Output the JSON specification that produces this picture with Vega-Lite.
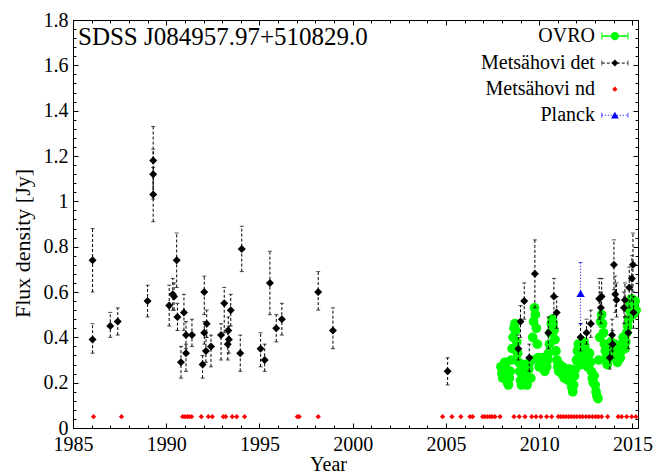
{
  "$schema": "https://vega.github.io/schema/vega-lite/v6.json",
  "width": 565,
  "height": 408,
  "autosize": "none",
  "padding": {"left": 73, "top": 20, "right": 18, "bottom": 45},
  "background": "white",
  "title": {"text": "SDSS J084957.97+510829.0", "anchor": "start", "frame": "group", "offset": 0, "dx": 5, "dy": 60, "baseline": "alphabetic", "font": "Liberation Serif", "fontSize": 25, "fontWeight": "normal", "color": "black"},
  "config": {
    "view": {"stroke": "black", "strokeWidth": 1},
    "axis": {"labelFont": "Liberation Serif", "titleFont": "Liberation Serif", "labelFontSize": 20, "titleFontSize": 20, "labelColor": "black", "titleColor": "black", "tickColor": "black", "titleFontWeight": "normal", "grid": false, "domain": false, "labelFlush": false, "labelOverlap": false, "tickWidth": 1}
  },
  "resolve": {"axis": {"x": "independent", "y": "independent"}},
  "datasets": {
    "ovro": [
      {"t":2007.95,"f":0.27},{"t":2008.0,"f":0.24},{"t":2008.05,"f":0.22},{"t":2008.1,"f":0.26},{"t":2008.15,"f":0.29},{"t":2008.2,"f":0.27},{"t":2008.25,"f":0.23},{"t":2008.3,"f":0.20},{"t":2008.35,"f":0.19},{"t":2008.4,"f":0.22},{"t":2008.45,"f":0.25},
      {"t":2008.5,"f":0.30},{"t":2008.55,"f":0.35},{"t":2008.6,"f":0.40},{"t":2008.65,"f":0.44},{"t":2008.7,"f":0.46},{"t":2008.75,"f":0.43},{"t":2008.8,"f":0.38},{"t":2008.85,"f":0.33},{"t":2008.9,"f":0.29},{"t":2008.95,"f":0.25},
      {"t":2009.0,"f":0.21},{"t":2009.05,"f":0.19},{"t":2009.1,"f":0.22},{"t":2009.15,"f":0.26},{"t":2009.2,"f":0.28},{"t":2009.25,"f":0.24},{"t":2009.3,"f":0.20},{"t":2009.35,"f":0.19},{"t":2009.4,"f":0.22},{"t":2009.45,"f":0.26},{"t":2009.5,"f":0.29},
      {"t":2009.55,"f":0.22},{"t":2009.6,"f":0.30},{"t":2009.65,"f":0.40},{"t":2009.7,"f":0.47},{"t":2009.75,"f":0.53},{"t":2009.8,"f":0.50},{"t":2009.85,"f":0.44},{"t":2009.9,"f":0.37},{"t":2009.95,"f":0.31},
      {"t":2010.0,"f":0.27},{"t":2010.05,"f":0.30},{"t":2010.1,"f":0.27},{"t":2010.15,"f":0.29},{"t":2010.2,"f":0.31},{"t":2010.25,"f":0.28},{"t":2010.3,"f":0.25},{"t":2010.35,"f":0.27},{"t":2010.4,"f":0.27},{"t":2010.45,"f":0.30},{"t":2010.5,"f":0.33},
      {"t":2010.55,"f":0.37},{"t":2010.6,"f":0.42},{"t":2010.65,"f":0.46},{"t":2010.7,"f":0.48},{"t":2010.75,"f":0.46},{"t":2010.8,"f":0.43},{"t":2010.85,"f":0.39},{"t":2010.9,"f":0.34},{"t":2010.95,"f":0.30},
      {"t":2011.0,"f":0.27},{"t":2011.05,"f":0.25},{"t":2011.1,"f":0.28},{"t":2011.15,"f":0.26},{"t":2011.2,"f":0.24},{"t":2011.25,"f":0.27},{"t":2011.3,"f":0.25},{"t":2011.35,"f":0.22},{"t":2011.4,"f":0.24},{"t":2011.45,"f":0.26},{"t":2011.5,"f":0.23},{"t":2011.55,"f":0.21},{"t":2011.6,"f":0.24},{"t":2011.65,"f":0.26},{"t":2011.7,"f":0.22},{"t":2011.75,"f":0.18},{"t":2011.8,"f":0.16},{"t":2011.85,"f":0.19},{"t":2011.9,"f":0.23},{"t":2011.95,"f":0.26},
      {"t":2012.0,"f":0.30},{"t":2012.05,"f":0.34},{"t":2012.1,"f":0.37},{"t":2012.15,"f":0.35},{"t":2012.2,"f":0.32},{"t":2012.25,"f":0.28},{"t":2012.3,"f":0.31},{"t":2012.35,"f":0.35},{"t":2012.4,"f":0.38},{"t":2012.45,"f":0.36},{"t":2012.5,"f":0.33},{"t":2012.55,"f":0.30},{"t":2012.6,"f":0.27},{"t":2012.65,"f":0.30},{"t":2012.7,"f":0.33},{"t":2012.75,"f":0.29},
      {"t":2012.8,"f":0.25},{"t":2012.85,"f":0.22},{"t":2012.9,"f":0.20},{"t":2012.95,"f":0.23},{"t":2013.0,"f":0.19},{"t":2013.05,"f":0.16},{"t":2013.1,"f":0.14},{"t":2013.15,"f":0.13},
      {"t":2013.2,"f":0.30},{"t":2013.25,"f":0.40},{"t":2013.3,"f":0.47},{"t":2013.35,"f":0.50},{"t":2013.4,"f":0.46},{"t":2013.45,"f":0.42},{"t":2013.5,"f":0.37},{"t":2013.55,"f":0.34},{"t":2013.6,"f":0.31},
      {"t":2013.65,"f":0.28},{"t":2013.7,"f":0.30},{"t":2013.75,"f":0.33},{"t":2013.8,"f":0.36},{"t":2013.85,"f":0.38},{"t":2013.9,"f":0.35},{"t":2013.95,"f":0.32},{"t":2014.0,"f":0.34},{"t":2014.05,"f":0.37},{"t":2014.1,"f":0.34},{"t":2014.15,"f":0.31},{"t":2014.2,"f":0.29},{"t":2014.25,"f":0.31},
      {"t":2014.3,"f":0.33},{"t":2014.35,"f":0.31},{"t":2014.4,"f":0.34},{"t":2014.45,"f":0.37},{"t":2014.5,"f":0.40},{"t":2014.55,"f":0.38},{"t":2014.6,"f":0.35},{"t":2014.65,"f":0.38},{"t":2014.7,"f":0.42},{"t":2014.75,"f":0.45},
      {"t":2014.8,"f":0.48},{"t":2014.85,"f":0.52},{"t":2014.9,"f":0.55},{"t":2014.95,"f":0.57},{"t":2015.0,"f":0.54},{"t":2015.05,"f":0.50},{"t":2015.1,"f":0.53},{"t":2015.15,"f":0.56},{"t":2015.2,"f":0.52}
    ],
    "met": [
      {"t":1986.05,"f":0.74,"lo":0.60,"hi":0.88},{"t":1986.05,"f":0.39,"lo":0.33,"hi":0.46},{"t":1987.0,"f":0.45,"lo":0.40,"hi":0.51},{"t":1987.4,"f":0.47,"lo":0.41,"hi":0.53},
      {"t":1989.0,"f":0.56,"lo":0.49,"hi":0.63},{"t":1989.3,"f":1.18,"lo":1.03,"hi":1.33},{"t":1989.3,"f":1.12,"lo":1.01,"hi":1.23},{"t":1989.3,"f":1.03,"lo":0.91,"hi":1.15},
      {"t":1990.16,"f":0.54,"lo":0.45,"hi":0.63},{"t":1990.35,"f":0.59,"lo":0.52,"hi":0.66},{"t":1990.42,"f":0.58,"lo":0.52,"hi":0.64},{"t":1990.56,"f":0.74,"lo":0.62,"hi":0.86},{"t":1990.6,"f":0.49,"lo":0.43,"hi":0.55},
      {"t":1990.79,"f":0.29,"lo":0.22,"hi":0.36},{"t":1990.95,"f":0.51,"lo":0.43,"hi":0.59},{"t":1991.06,"f":0.41,"lo":0.35,"hi":0.47},{"t":1991.06,"f":0.33,"lo":0.25,"hi":0.37},{"t":1991.38,"f":0.41,"lo":0.36,"hi":0.48},
      {"t":1991.95,"f":0.28,"lo":0.22,"hi":0.32},{"t":1992.04,"f":0.60,"lo":0.50,"hi":0.67},{"t":1992.04,"f":0.42,"lo":0.37,"hi":0.47},{"t":1992.13,"f":0.34,"lo":0.29,"hi":0.40},{"t":1992.17,"f":0.46,"lo":0.40,"hi":0.52},
      {"t":1992.4,"f":0.36,"lo":0.27,"hi":0.41},{"t":1992.94,"f":0.41,"lo":0.30,"hi":0.46},{"t":1993.11,"f":0.55,"lo":0.42,"hi":0.62},{"t":1993.3,"f":0.37,"lo":0.30,"hi":0.44},{"t":1993.33,"f":0.43,"lo":0.37,"hi":0.49},
      {"t":1993.36,"f":0.39,"lo":0.33,"hi":0.45},{"t":1993.46,"f":0.52,"lo":0.45,"hi":0.59},{"t":1993.97,"f":0.33,"lo":0.25,"hi":0.41},{"t":1994.05,"f":0.79,"lo":0.69,"hi":0.89},
      {"t":1995.06,"f":0.35,"lo":0.27,"hi":0.42},{"t":1995.28,"f":0.30,"lo":0.25,"hi":0.37},{"t":1995.56,"f":0.64,"lo":0.50,"hi":0.78},{"t":1995.9,"f":0.44,"lo":0.38,"hi":0.50},{"t":1996.2,"f":0.48,"lo":0.41,"hi":0.55},
      {"t":1998.15,"f":0.60,"lo":0.52,"hi":0.69},{"t":1998.94,"f":0.43,"lo":0.35,"hi":0.53},
      {"t":2005.09,"f":0.25,"lo":0.19,"hi":0.31},{"t":2008.88,"f":0.35,"lo":0.30,"hi":0.41},{"t":2009.0,"f":0.47,"lo":0.40,"hi":0.54},{"t":2009.2,"f":0.56,"lo":0.48,"hi":0.64},{"t":2009.47,"f":0.31,"lo":0.25,"hi":0.37},
      {"t":2009.77,"f":0.68,"lo":0.53,"hi":0.83},{"t":2010.49,"f":0.42,"lo":0.35,"hi":0.49},{"t":2010.79,"f":0.58,"lo":0.50,"hi":0.66},{"t":2010.94,"f":0.51,"lo":0.44,"hi":0.58},
      {"t":2012.22,"f":0.40,"lo":0.34,"hi":0.46},{"t":2012.54,"f":0.42,"lo":0.37,"hi":0.48},{"t":2012.77,"f":0.46,"lo":0.40,"hi":0.52},
      {"t":2013.22,"f":0.57,"lo":0.48,"hi":0.66},{"t":2013.35,"f":0.58,"lo":0.50,"hi":0.66},{"t":2013.31,"f":0.53,"lo":0.46,"hi":0.60},{"t":2013.79,"f":0.31,"lo":0.26,"hi":0.37},{"t":2013.91,"f":0.41,"lo":0.34,"hi":0.48},{"t":2013.94,"f":0.37,"lo":0.31,"hi":0.43},
      {"t":2014.01,"f":0.72,"lo":0.61,"hi":0.83},{"t":2014.08,"f":0.59,"lo":0.51,"hi":0.67},{"t":2014.15,"f":0.565,"lo":0.49,"hi":0.64},{"t":2014.55,"f":0.53,"lo":0.46,"hi":0.60},{"t":2014.6,"f":0.565,"lo":0.49,"hi":0.64},
      {"t":2014.78,"f":0.42,"lo":0.35,"hi":0.49},{"t":2014.83,"f":0.62,"lo":0.53,"hi":0.71},{"t":2014.97,"f":0.66,"lo":0.56,"hi":0.76},{"t":2015.03,"f":0.72,"lo":0.60,"hi":0.86},{"t":2015.06,"f":0.51,"lo":0.44,"hi":0.58}
    ],
    "nd": [
      {"t":1986.1,"f":0.05},{"t":1987.6,"f":0.05},{"t":1990.88,"f":0.05},{"t":1991.0,"f":0.05},{"t":1991.13,"f":0.05},{"t":1991.24,"f":0.05},{"t":1991.36,"f":0.05},{"t":1991.88,"f":0.05},{"t":1992.26,"f":0.05},{"t":1992.47,"f":0.05},
      {"t":1993.06,"f":0.05},{"t":1993.19,"f":0.05},{"t":1993.54,"f":0.05},{"t":1993.78,"f":0.05},{"t":1994.2,"f":0.05},{"t":1997.03,"f":0.05},{"t":1997.13,"f":0.05},{"t":1998.15,"f":0.05},
      {"t":2004.82,"f":0.05},{"t":2005.32,"f":0.05},{"t":2005.8,"f":0.05},{"t":2006.29,"f":0.05},{"t":2006.43,"f":0.05},{"t":2006.97,"f":0.05},{"t":2007.09,"f":0.05},{"t":2007.22,"f":0.05},{"t":2007.36,"f":0.05},{"t":2007.48,"f":0.05},{"t":2007.63,"f":0.05},{"t":2007.9,"f":0.05},
      {"t":2008.65,"f":0.05},{"t":2008.93,"f":0.05},{"t":2009.24,"f":0.05},{"t":2009.6,"f":0.05},{"t":2009.83,"f":0.05},{"t":2010.09,"f":0.05},{"t":2010.4,"f":0.05},{"t":2010.67,"f":0.05},
      {"t":2011.02,"f":0.05},{"t":2011.15,"f":0.05},{"t":2011.29,"f":0.05},{"t":2011.43,"f":0.05},{"t":2011.58,"f":0.05},{"t":2011.72,"f":0.05},{"t":2011.86,"f":0.05},{"t":2012.01,"f":0.05},{"t":2012.18,"f":0.05},{"t":2012.33,"f":0.05},
      {"t":2012.51,"f":0.05},{"t":2012.68,"f":0.05},{"t":2012.86,"f":0.05},{"t":2013.03,"f":0.05},{"t":2013.17,"f":0.05},{"t":2013.35,"f":0.05},{"t":2013.67,"f":0.05},{"t":2014.24,"f":0.05},{"t":2014.42,"f":0.05},{"t":2014.69,"f":0.05},{"t":2014.96,"f":0.05},{"t":2015.19,"f":0.05}
    ],
    "planck": [{"t":2012.22,"f":0.594,"lo":0.46,"hi":0.73}],
    "one": [{}]
  },
  "layer": [
    {
      "data": {"name": "ovro"},
      "mark": {"type": "point", "shape": "circle", "filled": true, "size": 95, "color": "#00ff00", "opacity": 1},
      "encoding": {
        "x": {"field": "t", "type": "quantitative", "scale": {"domain": [1985, 2015.3], "nice": false, "zero": false},
              "axis": {"orient": "bottom", "values": [1985,1990,1995,2000,2005,2010,2015], "format": "d", "title": "Year", "tickSize": -5, "labelPadding": 11, "titleX": 255, "titleY": 42, "titleBaseline": "alphabetic"}},
        "y": {"field": "f", "type": "quantitative", "scale": {"domain": [0, 1.8], "nice": false, "zero": false},
              "axis": {"orient": "left", "values": [0,0.2,0.4,0.6,0.8,1,1.2,1.4,1.6,1.8], "format": "~g", "title": "Flux density [Jy]", "tickSize": -5, "labelPadding": 10, "titleX": -44, "titleY": 223, "titleBaseline": "alphabetic", "titleFontSize": 22}}
      }
    },
    {
      "data": {"name": "met"},
      "mark": {"type": "errorbar", "ticks": {"size": 4, "color": "black"}, "rule": {"strokeDash": [3, 2], "color": "black", "strokeWidth": 1}},
      "encoding": {
        "x": {"field": "t", "type": "quantitative", "axis": null},
        "y": {"field": "lo", "type": "quantitative", "axis": null},
        "y2": {"field": "hi"}
      }
    },
    {
      "data": {"name": "met"},
      "mark": {"type": "point", "shape": "diamond", "filled": true, "size": 64, "color": "black", "opacity": 1},
      "encoding": {
        "x": {"field": "t", "type": "quantitative", "axis": {"orient": "bottom", "values": [1985,1986,1987,1988,1989,1990,1991,1992,1993,1994,1995,1996,1997,1998,1999,2000,2001,2002,2003,2004,2005,2006,2007,2008,2009,2010,2011,2012,2013,2014,2015], "labels": false, "title": null, "tickSize": -3}},
        "y": {"field": "f", "type": "quantitative", "axis": {"orient": "left", "values": [0,0.04,0.08,0.12,0.16,0.2,0.24,0.28,0.32,0.36,0.4,0.44,0.48,0.52,0.56,0.6,0.64,0.68,0.72,0.76,0.8,0.84,0.88,0.92,0.96,1,1.04,1.08,1.12,1.16,1.2,1.24,1.28,1.32,1.36,1.4,1.44,1.48,1.52,1.56,1.6,1.64,1.68,1.72,1.76,1.8], "labels": false, "title": null, "tickSize": -3}}
      }
    },
    {
      "data": {"name": "nd"},
      "mark": {"type": "point", "shape": "diamond", "filled": true, "size": 28, "color": "#ff0000", "opacity": 1},
      "encoding": {
        "x": {"field": "t", "type": "quantitative", "axis": {"orient": "top", "values": [1985,1990,1995,2000,2005,2010,2015], "labels": false, "title": null, "tickSize": -5}},
        "y": {"field": "f", "type": "quantitative", "axis": {"orient": "right", "values": [0,0.2,0.4,0.6,0.8,1,1.2,1.4,1.6,1.8], "labels": false, "title": null, "tickSize": -5}}
      }
    },
    {
      "data": {"name": "planck"},
      "mark": {"type": "errorbar", "ticks": {"size": 4, "color": "#0000ff"}, "rule": {"strokeDash": [1, 2], "color": "#0000ff", "strokeWidth": 1}},
      "encoding": {
        "x": {"field": "t", "type": "quantitative", "axis": null},
        "y": {"field": "lo", "type": "quantitative", "axis": null},
        "y2": {"field": "hi"}
      }
    },
    {
      "data": {"name": "planck"},
      "mark": {"type": "point", "shape": "triangle-up", "filled": true, "size": 70, "color": "#0000ff", "opacity": 1},
      "encoding": {
        "x": {"field": "t", "type": "quantitative", "axis": {"orient": "top", "values": [1985,1986,1987,1988,1989,1990,1991,1992,1993,1994,1995,1996,1997,1998,1999,2000,2001,2002,2003,2004,2005,2006,2007,2008,2009,2010,2011,2012,2013,2014,2015], "labels": false, "title": null, "tickSize": -3}},
        "y": {"field": "f", "type": "quantitative", "axis": {"orient": "right", "values": [0,0.04,0.08,0.12,0.16,0.2,0.24,0.28,0.32,0.36,0.4,0.44,0.48,0.52,0.56,0.6,0.64,0.68,0.72,0.76,0.8,0.84,0.88,0.92,0.96,1,1.04,1.08,1.12,1.16,1.2,1.24,1.28,1.32,1.36,1.4,1.44,1.48,1.52,1.56,1.6,1.64,1.68,1.72,1.76,1.8], "labels": false, "title": null, "tickSize": -3}}
      }
    },
    {"data": {"name": "one"}, "mark": {"type": "text", "align": "right", "baseline": "middle", "font": "Liberation Serif", "fontSize": 20, "color": "black"},
     "encoding": {"x": {"datum": 2012.99, "type": "quantitative", "axis": null}, "y": {"datum": 1.729, "type": "quantitative", "axis": null}, "text": {"value": "OVRO"}}},
    {"data": {"name": "one"}, "mark": {"type": "text", "align": "right", "baseline": "middle", "font": "Liberation Serif", "fontSize": 20, "color": "black"},
     "encoding": {"x": {"datum": 2012.99, "type": "quantitative", "axis": null}, "y": {"datum": 1.610, "type": "quantitative", "axis": null}, "text": {"value": "Metsähovi det"}}},
    {"data": {"name": "one"}, "mark": {"type": "text", "align": "right", "baseline": "middle", "font": "Liberation Serif", "fontSize": 20, "color": "black"},
     "encoding": {"x": {"datum": 2012.99, "type": "quantitative", "axis": null}, "y": {"datum": 1.495, "type": "quantitative", "axis": null}, "text": {"value": "Metsähovi nd"}}},
    {"data": {"name": "one"}, "mark": {"type": "text", "align": "right", "baseline": "middle", "font": "Liberation Serif", "fontSize": 20, "color": "black"},
     "encoding": {"x": {"datum": 2012.99, "type": "quantitative", "axis": null}, "y": {"datum": 1.380, "type": "quantitative", "axis": null}, "text": {"value": "Planck"}}},
    {"data": {"name": "one"}, "mark": {"type": "rule", "color": "#00ff00", "strokeWidth": 1.5},
     "encoding": {"x": {"datum": 2013.36, "type": "quantitative", "axis": null}, "x2": {"datum": 2014.76}, "y": {"datum": 1.729, "type": "quantitative", "axis": null}}},
    {"data": {"name": "one"}, "mark": {"type": "rule", "color": "black", "strokeWidth": 1, "strokeDash": [3, 2]},
     "encoding": {"x": {"datum": 2013.36, "type": "quantitative", "axis": null}, "x2": {"datum": 2014.76}, "y": {"datum": 1.610, "type": "quantitative", "axis": null}}},
    {"data": {"name": "one"}, "mark": {"type": "rule", "color": "#0000ff", "strokeWidth": 1, "strokeDash": [1, 2]},
     "encoding": {"x": {"datum": 2013.36, "type": "quantitative", "axis": null}, "x2": {"datum": 2014.76}, "y": {"datum": 1.380, "type": "quantitative", "axis": null}}},
    {"data": {"name": "one"}, "mark": {"type": "tick", "orient": "vertical", "color": "#00ff00", "size": 7, "thickness": 1.5},
     "encoding": {"x": {"datum": 2013.36, "type": "quantitative", "axis": null}, "y": {"datum": 1.729, "type": "quantitative", "axis": null}}},
    {"data": {"name": "one"}, "mark": {"type": "tick", "orient": "vertical", "color": "#00ff00", "size": 7, "thickness": 1.5},
     "encoding": {"x": {"datum": 2014.76, "type": "quantitative", "axis": null}, "y": {"datum": 1.729, "type": "quantitative", "axis": null}}},
    {"data": {"name": "one"}, "mark": {"type": "tick", "orient": "vertical", "color": "black", "size": 5, "thickness": 1},
     "encoding": {"x": {"datum": 2013.36, "type": "quantitative", "axis": null}, "y": {"datum": 1.610, "type": "quantitative", "axis": null}}},
    {"data": {"name": "one"}, "mark": {"type": "tick", "orient": "vertical", "color": "black", "size": 5, "thickness": 1},
     "encoding": {"x": {"datum": 2014.76, "type": "quantitative", "axis": null}, "y": {"datum": 1.610, "type": "quantitative", "axis": null}}},
    {"data": {"name": "one"}, "mark": {"type": "tick", "orient": "vertical", "color": "#0000ff", "size": 5, "thickness": 1},
     "encoding": {"x": {"datum": 2013.36, "type": "quantitative", "axis": null}, "y": {"datum": 1.380, "type": "quantitative", "axis": null}}},
    {"data": {"name": "one"}, "mark": {"type": "tick", "orient": "vertical", "color": "#0000ff", "size": 5, "thickness": 1},
     "encoding": {"x": {"datum": 2014.76, "type": "quantitative", "axis": null}, "y": {"datum": 1.380, "type": "quantitative", "axis": null}}},
    {"data": {"name": "one"}, "mark": {"type": "point", "shape": "circle", "filled": true, "size": 70, "color": "#00ff00", "opacity": 1},
     "encoding": {"x": {"datum": 2014.06, "type": "quantitative", "axis": null}, "y": {"datum": 1.729, "type": "quantitative", "axis": null}}},
    {"data": {"name": "one"}, "mark": {"type": "point", "shape": "diamond", "filled": true, "size": 50, "color": "black", "opacity": 1},
     "encoding": {"x": {"datum": 2014.06, "type": "quantitative", "axis": null}, "y": {"datum": 1.610, "type": "quantitative", "axis": null}}},
    {"data": {"name": "one"}, "mark": {"type": "point", "shape": "diamond", "filled": true, "size": 28, "color": "#ff0000", "opacity": 1},
     "encoding": {"x": {"datum": 2014.06, "type": "quantitative", "axis": null}, "y": {"datum": 1.495, "type": "quantitative", "axis": null}}},
    {"data": {"name": "one"}, "mark": {"type": "point", "shape": "triangle-up", "filled": true, "size": 60, "color": "#0000ff", "opacity": 1},
     "encoding": {"x": {"datum": 2014.06, "type": "quantitative", "axis": null}, "y": {"datum": 1.380, "type": "quantitative", "axis": null}}}
  ]
}
